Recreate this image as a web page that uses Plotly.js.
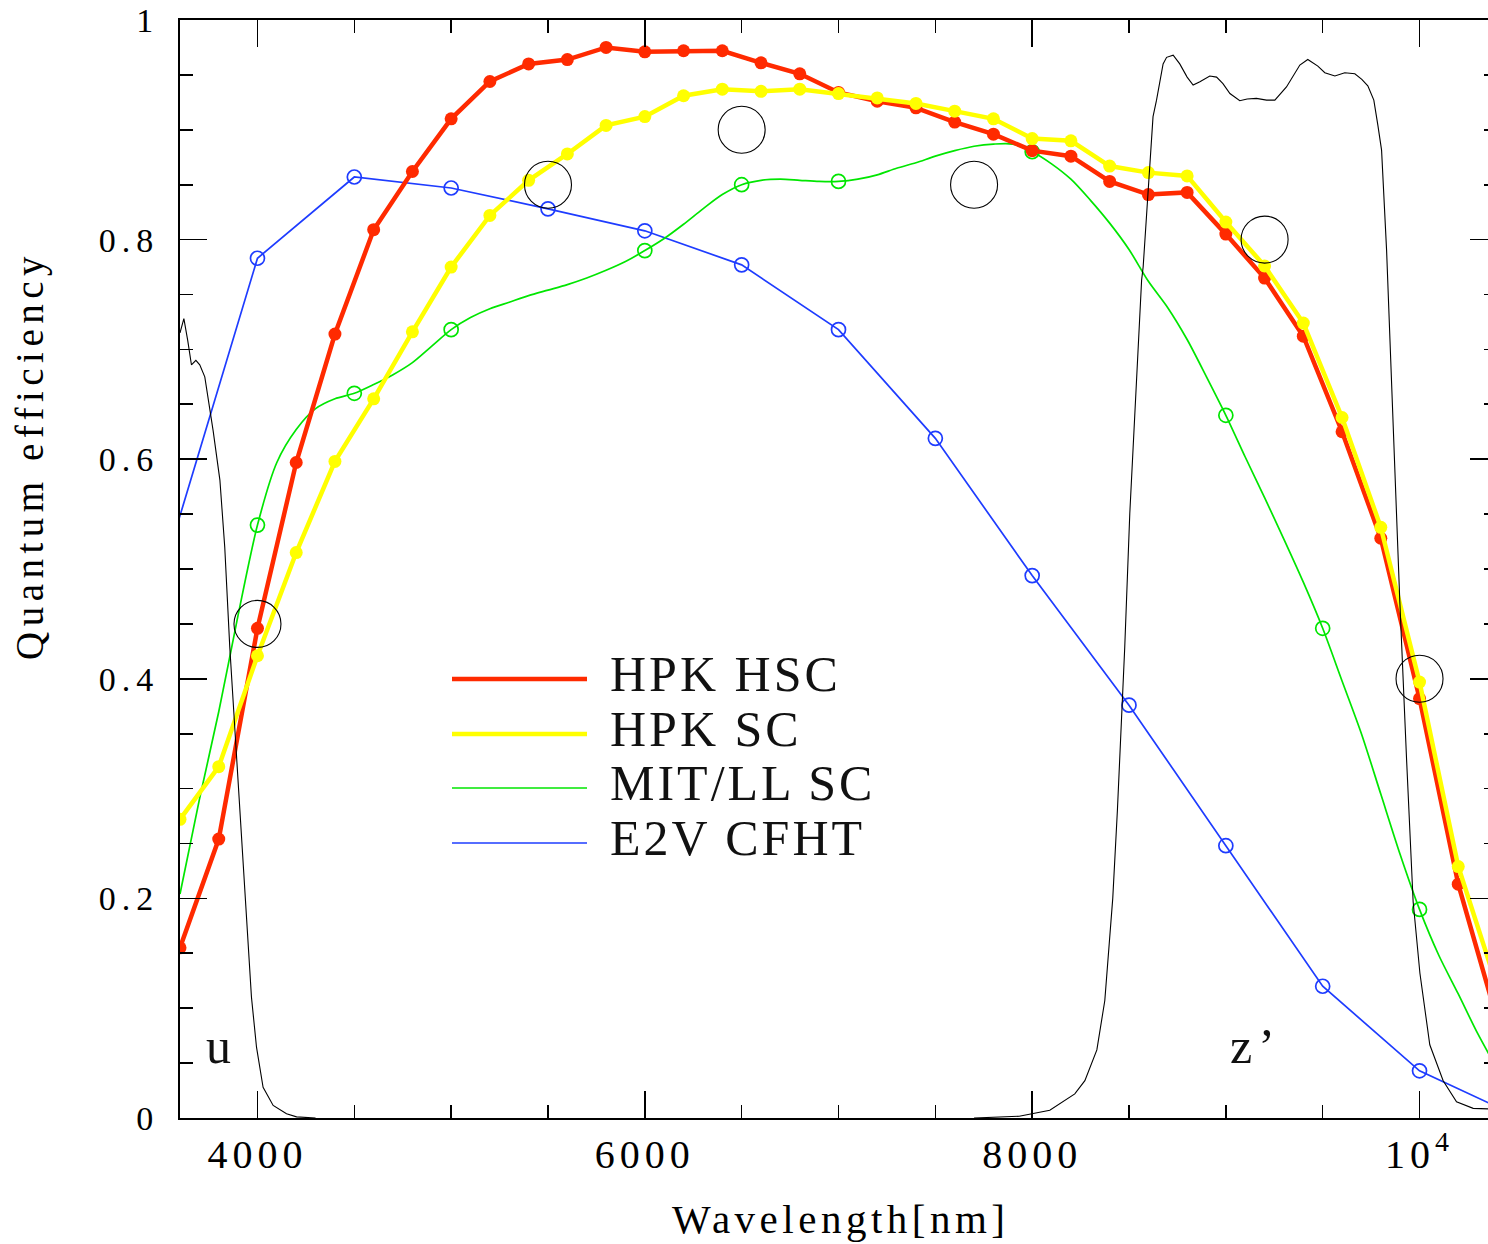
<!DOCTYPE html>
<html><head><meta charset="utf-8">
<script src="https://cdn.plot.ly/plotly-3.0.1.min.js"></script>
<style>html,body{margin:0;padding:0;overflow:hidden;background:#fff}#chart{width:1500px;height:1244px}</style>
</head><body><div id="chart"></div>
<script>
// ---------------- data ----------------
const hpkWave = [3600,3800,4000,4200,4400,4600,4800,5000,5200,5400,5600,5800,6000,6200,6400,6600,6800,7000,7200,7400,7600,7800,8000,8200,8400,8600,8800,9000,9200,9400,9600,9800,10000,10200,10400];
const hpkHSC  = [0.155,0.254,0.446,0.597,0.714,0.809,0.862,0.910,0.944,0.960,0.964,0.975,0.971,0.972,0.972,0.961,0.951,0.934,0.926,0.920,0.907,0.896,0.881,0.876,0.853,0.841,0.843,0.805,0.765,0.712,0.625,0.528,0.382,0.213,0.090];
const hpkSC   = [0.272,0.320,0.421,0.515,0.598,0.655,0.716,0.775,0.822,0.854,0.878,0.904,0.912,0.931,0.937,0.935,0.937,0.933,0.929,0.924,0.917,0.910,0.892,0.890,0.867,0.861,0.858,0.816,0.776,0.724,0.638,0.538,0.397,0.229,0.120];

const mitWave = [3600,3700,3800,3900,4000,4100,4200,4300,4400,4500,4600,4700,4800,4900,5000,5100,5200,5300,5400,5500,5600,5700,5800,5900,6000,6100,6200,6300,6400,6500,6600,6700,6800,6900,7000,7100,7200,7300,7400,7500,7600,7700,7800,7900,8000,8100,8200,8300,8400,8500,8600,8700,8800,8900,9000,9100,9200,9300,9400,9500,9600,9700,9800,9900,10000,10100,10200,10300,10400];
const mitSC   = [0.204,0.290,0.370,0.458,0.540,0.597,0.627,0.646,0.655,0.660,0.668,0.677,0.688,0.703,0.718,0.729,0.737,0.743,0.749,0.754,0.759,0.765,0.772,0.780,0.790,0.801,0.814,0.828,0.841,0.850,0.854,0.855,0.854,0.853,0.853,0.855,0.859,0.865,0.870,0.876,0.881,0.885,0.887,0.887,0.880,0.869,0.855,0.836,0.815,0.791,0.762,0.738,0.709,0.675,0.640,0.602,0.565,0.527,0.488,0.446,0.398,0.350,0.295,0.240,0.190,0.148,0.113,0.077,0.045];
const mitMarkWave = [4000,4500,5000,6000,6500,7000,8000,9000,9500,10000];

const e2vWave = [3500,4000,4500,5000,5500,6000,6500,7000,7500,8000,8500,9000,9500,10000,10500];
const e2vCFHT = [0.490,0.783,0.857,0.847,0.828,0.808,0.777,0.718,0.619,0.494,0.376,0.248,0.120,0.043,0.002];

const uWave  = [3600,3620,3640,3659,3682,3702,3728,3771,3806,3831,3857,3874,3909,3943,3969,3995,4029,4081,4150,4202,4300];
const uTrans = [0.715,0.728,0.708,0.686,0.690,0.686,0.675,0.626,0.581,0.520,0.429,0.380,0.277,0.186,0.110,0.0645,0.028,0.0114,0.0038,0.001,0];

const zWave  = [7700,7933,8091,8158,8220,8272,8334,8375,8416,8440,8461,8478,8504,8539,8565,8573,8600,8624,8642,8660,8676,8694,8728,8762,8800,8831,8866,8917,8952,8985,9021,9072,9110,9158,9210,9253,9313,9382,9423,9475,9511,9563,9614,9666,9702,9733,9764,9785,9804,9830,9856,9881,9898,9933,9967,10002,10053,10122,10191,10277,10400];
const zTrans = [0,0.0016,0.007,0.0144,0.022,0.034,0.062,0.107,0.200,0.280,0.362,0.429,0.5505,0.672,0.763,0.775,0.850,0.912,0.927,0.945,0.960,0.966,0.968,0.960,0.948,0.9408,0.9438,0.949,0.948,0.942,0.933,0.9265,0.928,0.9286,0.927,0.927,0.939,0.959,0.964,0.958,0.952,0.949,0.952,0.951,0.946,0.940,0.927,0.904,0.8815,0.790,0.669,0.547,0.4715,0.327,0.197,0.1318,0.0667,0.034,0.0147,0.0088,0.008];

const refWave = [4000,5500,6500,7700,9200,10000];
const refQE   = [0.45,0.85,0.90,0.85,0.80,0.40];

const seriesNames = ['HPK HSC','HPK SC','MIT/LL SC','E2V CFHT'];
const filterNames = ['u',"z\u2019"];
const xTickVals = [4000,6000,8000,10000];
const xTickText = ['4000','6000','8000','10<sup>4</sup>'];
const yTickVals = [0,0.2,0.4,0.6,0.8,1];
const yTickText = ['0','0.2','0.4','0.6','0.8','1'];
const xTitle = 'Wavelength[nm]';
const yTitle = 'Quantum efficiency';

// ---------------- styling ----------------
const RED='#ff2a00', YEL='#ffff00', GRN='#00e600', BLU='#1e3cff';
const FONT='Liberation Serif';
const L=180, R=3, T=20, B=126, W=1500, H=1244;
const PW=W-L-R, PH=H-T-B;
const px2x = p => (p-L)/PW;
const py2y = p => (H-B-p)/PH;
const sp = (s,ls) => '<span style="letter-spacing:'+ls+'px">'+s+'</span>';

const mitMarkQE = mitMarkWave.map(w => mitSC[mitWave.indexOf(w)]);

const traces = [
  {x:e2vWave, y:e2vCFHT, mode:'lines+markers', line:{color:BLU,width:1.7},
   marker:{symbol:'circle-open',size:14,color:BLU,line:{width:1.7,color:BLU}}, name:seriesNames[3]},
  {x:mitWave, y:mitSC, mode:'lines', line:{color:GRN,width:1.7,shape:'spline',smoothing:0.8}, name:seriesNames[2]},
  {x:mitMarkWave, y:mitMarkQE, mode:'markers', marker:{symbol:'circle-open',size:14,color:GRN,line:{width:1.7,color:GRN}}, showlegend:false},
  {x:hpkWave, y:hpkHSC, mode:'lines+markers', line:{color:RED,width:4.5}, marker:{size:13,color:RED}, name:seriesNames[0]},
  {x:hpkWave, y:hpkSC, mode:'lines+markers', line:{color:YEL,width:4.5}, marker:{size:13,color:YEL}, name:seriesNames[1]},
  {x:uWave, y:uTrans, mode:'lines', line:{color:'#000',width:1.1}, name:filterNames[0]},
  {x:zWave, y:zTrans, mode:'lines', line:{color:'#000',width:1.1}, name:filterNames[1]},
  {x:refWave, y:refQE, mode:'markers', marker:{symbol:'circle-open',size:47,color:'#000',line:{width:1.1,color:'#000'}}, name:'ref'}
];

// legend drawn as shapes + annotations
const legRowsPx = [679,734,788,843];
const legColors = [RED,YEL,GRN,BLU];
const legWidths = [4.7,4.7,1.6,1.6];
const shapes = legRowsPx.map((py,i)=>({type:'line',xref:'paper',yref:'paper',
  x0:px2x(452),x1:px2x(587),y0:py2y(py),y1:py2y(py),line:{color:legColors[i],width:legWidths[i]}}));
const annotations = legRowsPx.map((py,i)=>({xref:'paper',yref:'paper',x:px2x(608),y:py2y(py-5),
  xanchor:'left',yanchor:'middle',showarrow:false,text:sp(seriesNames[i],3),font:{family:FONT,size:50,color:'#111'}}));
annotations.push({xref:'paper',yref:'paper',x:px2x(218),y:py2y(1046),xanchor:'center',yanchor:'middle',showarrow:false,
  text:filterNames[0],font:{family:FONT,size:50,color:'#111'}});
annotations.push({xref:'paper',yref:'paper',x:px2x(1228),y:py2y(1046),xanchor:'left',yanchor:'middle',showarrow:false,
  text:sp(filterNames[1],6),font:{family:FONT,size:50,color:'#111'}});
annotations.push({xref:'paper',yref:'paper',x:px2x(841),y:py2y(1219),xanchor:'center',yanchor:'middle',showarrow:false,
  text:sp(xTitle,4.5),font:{family:FONT,size:41,color:'#000'}});
annotations.push({xref:'paper',yref:'paper',x:px2x(30),y:py2y(456),xanchor:'center',yanchor:'middle',showarrow:false,
  textangle:-90,text:sp(yTitle,5.5),font:{family:FONT,size:39,color:'#000'}});

const axisCommon = {showgrid:false,zeroline:false,showline:true,linecolor:'#000',linewidth:2,mirror:'ticks',
  ticks:'inside',ticklen:27,tickwidth:1.6,tickcolor:'#000',tickmode:'array',automargin:false};

const layout = {
  width:W,height:H,margin:{l:L,r:R,t:T,b:B},paper_bgcolor:'#fff',plot_bgcolor:'#fff',showlegend:false,
  xaxis:Object.assign({},axisCommon,{range:[3600,10400],tickvals:xTickVals,ticktext:xTickText.map(t=>sp(t,5)),
    tickfont:{family:FONT,size:40,color:'#000'},ticklabelstandoff:0,
    minor:{tickmode:'linear',tick0:0,dtick:500,ticks:'inside',ticklen:13,tickwidth:1.6,tickcolor:'#000',showgrid:false}}),
  yaxis:Object.assign({},axisCommon,{range:[0,1],tickvals:yTickVals,ticktext:yTickText.map(t=>sp(t,6)),
    tickfont:{family:FONT,size:34,color:'#000'},ticklabelstandoff:12,
    minor:{tickmode:'linear',tick0:0,dtick:0.05,ticks:'inside',ticklen:13,tickwidth:1.6,tickcolor:'#000',showgrid:false}}),
  shapes:shapes, annotations:annotations
};

Plotly.newPlot('chart', traces, layout, {staticPlot:true,displayModeBar:false});
</script></body></html>
